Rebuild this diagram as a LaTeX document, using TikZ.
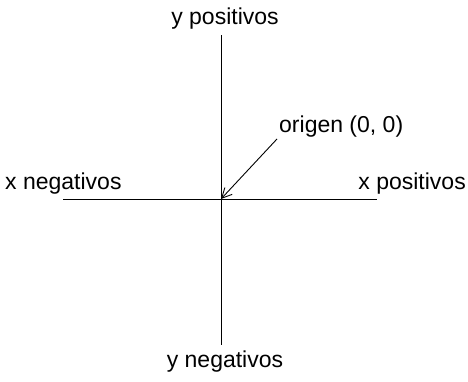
\documentclass[tikz,border=0pt]{standalone}
\usepackage{fontspec}
\setmainfont{Liberation Sans}
\usetikzlibrary{arrows.meta,positioning}
\tikzset{
  axis/.style={line width=0.9pt,draw=black},
  axlab/.style={font=\fontsize{23}{27}\selectfont,inner sep=0pt},
  pointer/.style={-{Straight Barb[length=10pt,width=10pt]},line width=0.9pt,draw=black}
}
\begin{document}
\begin{tikzpicture}[x=1pt,y=-1pt]
  \useasboundingbox (0,0) rectangle (468,381);
  % axes
  \coordinate (o) at (221,199);
  \coordinate (xneg) at (63,199);
  \coordinate (xpos) at (377,199);
  \coordinate (ypos) at (221,35);
  \coordinate (yneg) at (221,345);
  \draw[axis] (xneg) -- (xpos);
  \draw[axis] (ypos) -- (yneg);

  % labels
  \node[axlab,anchor=base] (ylabpos) at (225,24) {y positivos};
  \node[axlab,anchor=base] (ylabneg) at (225,367) {y negativos};
  \node[axlab,anchor=base west] (xlabneg) at (5,189) {x negativos};
  \node[axlab,anchor=base east] (xlabpos) at (466,189) {x positivos};
  \node[axlab,anchor=base west,inner sep=2pt] (origen) at (277,132) {origen (0, 0)};
  \draw[pointer] (origen.south west) -- (o);
\end{tikzpicture}
\end{document}
